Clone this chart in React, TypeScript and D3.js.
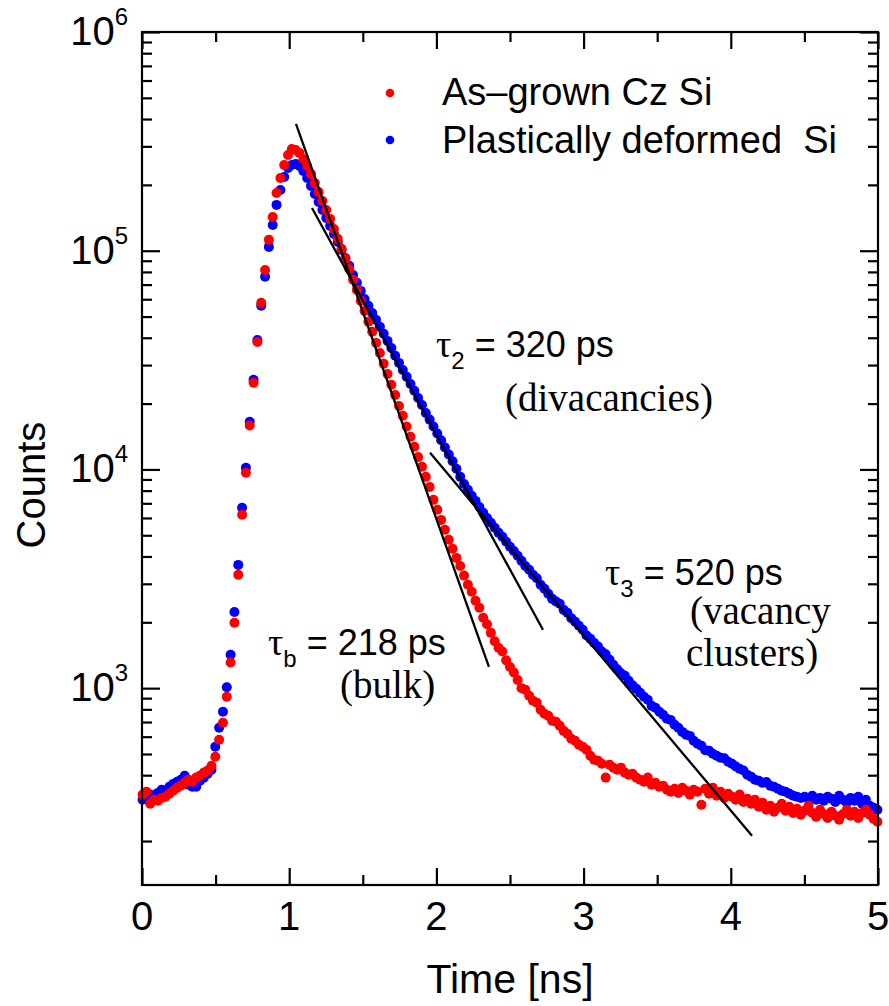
import React, { useRef, useEffect } from "react";
import * as d3 from "d3";

// channel grid of the lifetime spectrometer (ns)
const channelWidth = 0.026;
const timeOffset = 0.004;

// As-grown Cz Si, counts per channel
const asGrownCounts = [
  326, 336, 296, 309, 306, 315, 319, 329, 340, 350,
  358, 369, 381, 373, 390, 398, 411, 420, 442, 486,
  581, 695, 913, 1310, 1990, 3300, 6210, 9650, 15900, 24900,
  38300, 57800, 81700, 112100, 142700, 183700, 215000, 246700, 274000, 291900,
  288800, 279800, 262800, 244000, 224000, 204000, 185600, 168900, 153600, 139800,
  125800, 113300, 102000, 91800, 82600, 73600, 66200, 59000, 53000, 47300,
  42600, 37900, 34100, 30400, 27300, 24400, 21900, 19500, 17600, 15700,
  14100, 12700, 11400, 10300, 9250, 8320, 7260, 6540, 5880, 5300,
  4770, 4340, 3940, 3620, 3270, 2970, 2760, 2510, 2330, 2100,
  1960, 1790, 1640, 1530, 1470, 1340, 1250, 1180, 1090, 1000,
  983, 923, 876, 858, 797, 764, 748, 709, 702, 673,
  638, 618, 587, 575, 551, 540, 523, 491, 471, 466,
  451, 390, 447, 433, 424, 433, 411, 402, 406, 390,
  381, 373, 390, 362, 369, 354, 358, 343, 336, 347,
  332, 350, 340, 326, 343, 336, 293, 347, 329, 350,
  322, 336, 315, 329, 319, 309, 326, 302, 312, 296,
  309, 287, 299, 278, 290, 272, 284, 296, 275, 287,
  269, 281, 264, 275, 290, 269, 258, 278, 266, 255,
  272, 261, 250, 266, 278, 261, 272, 255, 269, 278,
  264, 253, 245,
];

// Plastically deformed Si, counts per channel
const deformedCounts = [
  309, 319, 326, 319, 332, 343, 336, 354, 365, 373,
  381, 398, 362, 354, 354, 377, 390, 406, 424, 540,
  659, 780, 1010, 1420, 2230, 3660, 6680, 10170, 16500, 25700,
  39100, 56000, 76000, 104100, 131200, 162000, 189600, 217300, 239000, 246700,
  249000, 244000, 231500, 215000, 197800, 181600, 167100, 153600, 141200, 129900,
  119300, 109700, 100900, 92700, 85300, 77500, 71300, 65500, 60200, 56000,
  51900, 48300, 44900, 41700, 38700, 35900, 33100, 30700, 28500, 26500,
  24600, 22900, 21200, 19700, 18100, 16900, 15700, 14600, 13600, 12600,
  11700, 10900, 10070, 9250, 8580, 8070, 7580, 7180, 6740, 6340,
  6000, 5700, 5410, 5140, 4920, 4670, 4430, 4240, 4030, 3820,
  3620, 3480, 3300, 3180, 2970, 2850, 2700, 2560, 2490, 2430,
  2280, 2210, 2090, 2010, 1930, 1850, 1740, 1680, 1610, 1550,
  1470, 1430, 1350, 1280, 1220, 1170, 1140, 1080, 1030, 993,
  953, 913, 885, 830, 814, 780, 756, 725, 715, 680,
  659, 631, 612, 605, 575, 557, 546, 520, 518, 501,
  491, 481, 478, 461, 451, 438, 428, 420, 402, 394,
  381, 377, 369, 372, 358, 354, 347, 340, 336, 329,
  322, 319, 315, 319, 312, 322, 309, 315, 306, 319,
  312, 302, 322, 309, 299, 315, 306, 319, 296, 309,
  290, 284, 278,
];

// fitted exponential components: [time ns, counts]
const bulkFit = [[1.046, 380000], [2.357, 1252]];
const divacancyFit = [[1.155, 156900], [2.724, 1849]];
const clusterFit = [[1.957, 11910], [4.144, 211.5]];

const xMajorTicks = [0, 1, 2, 3, 4, 5];
const xMinorTicks = [0.5, 1.5, 2.5, 3.5, 4.5];
const yMajorTicks = [1e3, 1e4, 1e5, 1e6];
const yMinorTicks = [
  200, 400, 500, 600, 700, 800, 900,
  2000, 3000, 4000, 5000, 6000, 7000, 8000, 9000,
  20000, 30000, 40000, 50000, 60000, 70000, 80000, 90000,
  200000, 300000, 400000, 500000, 600000, 700000, 800000, 900000,
];

const legendLabels = ["As\u2013grown Cz Si", "Plastically deformed\u00a0 Si"];
const legendColors = ["#ff0000", "#0000ff"];

const SANS = "'Liberation Sans', Arial, Helvetica, sans-serif";
const SERIF = "'Liberation Serif', 'Times New Roman', serif";

function App() {
  const svgRef = useRef<SVGSVGElement>(null);

  useEffect(() => {
    const svg = d3.select(svgRef.current);
    svg.selectAll("*").remove();

    const left = 142, right = 878, top = 32, bottom = 885;
    const x = d3.scaleLinear().domain([0, 5]).range([left, right]);
    const y = d3.scaleLog().domain([Math.pow(10, 2.1), 1e6]).range([bottom, top]);
    const times = d3.range(asGrownCounts.length).map((i) => timeOffset + i * channelWidth);

    // data points, blue under red
    svg.append("g")
      .selectAll("circle")
      .data(deformedCounts)
      .join("circle")
      .attr("cx", (d, i) => x(times[i]))
      .attr("cy", (d) => y(d))
      .attr("r", 5)
      .attr("fill", legendColors[1]);

    svg.append("g")
      .selectAll("circle")
      .data(asGrownCounts)
      .join("circle")
      .attr("cx", (d, i) => x(times[i]))
      .attr("cy", (d) => y(d))
      .attr("r", 5)
      .attr("fill", legendColors[0]);

    // fit lines
    const fitLine = d3.line<number[]>().x((d) => x(d[0])).y((d) => y(d[1]));
    svg.append("g")
      .selectAll("path")
      .data([bulkFit, divacancyFit, clusterFit])
      .join("path")
      .attr("d", fitLine)
      .attr("fill", "none")
      .attr("stroke", "#000")
      .attr("stroke-width", 2.3);

    // frame
    svg.append("rect")
      .attr("x", left).attr("y", top)
      .attr("width", right - left).attr("height", bottom - top)
      .attr("fill", "none").attr("stroke", "#000").attr("stroke-width", 2.2);

    // inward ticks on all four sides
    const tidy = (g: any) => {
      g.select(".domain").remove();
      g.selectAll("line").attr("stroke-width", 2.2);
    };
    const blank = () => "";
    const ticks = [
      [d3.axisRight(y).tickValues(yMajorTicks).tickSize(18), `translate(${left},0)`],
      [d3.axisRight(y).tickValues(yMinorTicks).tickSize(10), `translate(${left},0)`],
      [d3.axisLeft(y).tickValues(yMajorTicks).tickSize(18), `translate(${right},0)`],
      [d3.axisLeft(y).tickValues(yMinorTicks).tickSize(10), `translate(${right},0)`],
      [d3.axisTop(x).tickValues(xMajorTicks).tickSize(17), `translate(0,${bottom})`],
      [d3.axisTop(x).tickValues(xMinorTicks).tickSize(10), `translate(0,${bottom})`],
      [d3.axisBottom(x).tickValues(xMajorTicks).tickSize(17), `translate(0,${top})`],
      [d3.axisBottom(x).tickValues(xMinorTicks).tickSize(10), `translate(0,${top})`],
    ] as [any, string][];
    ticks.forEach(([axis, tr]) => {
      svg.append("g").attr("transform", tr).call(axis.tickFormat(blank).tickSizeOuter(0)).call(tidy);
    });

    // tick labels
    svg.append("g")
      .selectAll("text")
      .data(xMajorTicks)
      .join("text")
      .attr("x", (d) => x(d))
      .attr("y", 930)
      .attr("text-anchor", "middle")
      .attr("font-family", SANS)
      .attr("font-size", 40)
      .text((d) => d);

    svg.append("g")
      .selectAll("text")
      .data(yMajorTicks)
      .join("text")
      .attr("x", 128)
      .attr("y", (d) => y(d) + 13)
      .attr("text-anchor", "end")
      .attr("font-family", SANS)
      .attr("font-size", 40)
      .each(function (d) {
        const t = d3.select(this);
        t.append("tspan").text("10");
        t.append("tspan").attr("dy", -20).attr("font-size", 24).text(Math.round(Math.log10(d)));
      });

    // axis titles
    svg.append("text")
      .attr("x", 510).attr("y", 993)
      .attr("text-anchor", "middle")
      .attr("font-family", SANS).attr("font-size", 41)
      .text("Time [ns]");

    svg.append("text")
      .attr("transform", "translate(45,485) rotate(-90)")
      .attr("text-anchor", "middle")
      .attr("font-family", SANS).attr("font-size", 40)
      .text("Counts");

    // legend
    const legend = svg.append("g");
    legendLabels.forEach((label, i) => {
      legend.append("circle").attr("cx", 390).attr("cy", 93 + i * 47).attr("r", 4.3).attr("fill", legendColors[i]);
      legend.append("text")
        .attr("x", 442).attr("y", 105 + i * 48)
        .attr("font-family", SANS).attr("font-size", 38)
        .text(label);
    });

    // lifetime annotations
    const tau = (px: number, py: number, sub: string, value: string) => {
      const t = svg.append("text").attr("x", px).attr("y", py).attr("font-family", SANS).attr("font-size", 36);
      t.append("tspan").attr("font-family", SERIF).attr("font-size", 38).text("\u03c4");
      t.append("tspan").attr("font-size", 24).attr("dy", 12).text(sub);
      t.append("tspan").attr("dy", -12).text(" = " + value);
    };
    const note = (px: number, py: number, s: string) => {
      svg.append("text").attr("x", px).attr("y", py)
        .attr("font-family", SERIF).attr("font-size", 39).text(s);
    };

    tau(436, 357, "2", "320 ps");
    note(505, 411, "(divacancies)");
    tau(605, 585, "3", "520 ps");
    note(690, 624, "(vacancy");
    note(686, 666, "clusters)");
    tau(268, 655, "b", "218 ps");
    note(340, 698, "(bulk)");
  }, []);

  return (
    <svg
      ref={svgRef}
      width={889}
      height={1006}
      style={{ position: "absolute", left: 0, top: 0, background: "#fff" }}
    />
  );
}

export default App;
